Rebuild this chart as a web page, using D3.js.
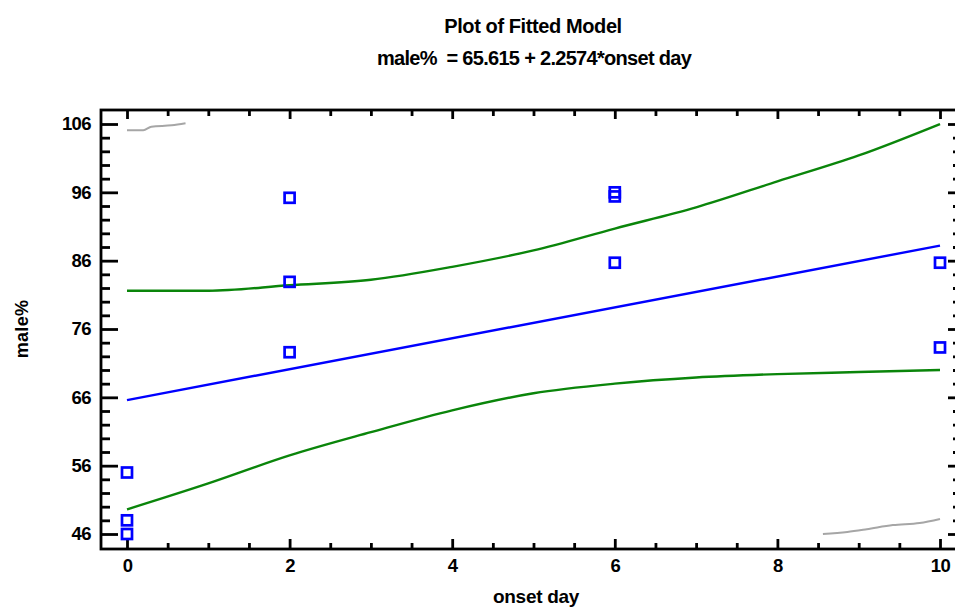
<!DOCTYPE html>
<html>
<head>
<meta charset="utf-8">
<script src="https://cdn.jsdelivr.net/npm/d3@7"></script>
<style>
  body { margin: 0; background: #fff; }
  svg { display: block; font-family: "Liberation Sans", Arial, sans-serif; font-weight: bold; }
</style>
</head>
<body>
<div id="chart"></div>
<script>
// observed points
const onsetDay = [0, 0, 0, 2, 2, 2, 6, 6, 6, 10, 10];
const malePct = [55, 48, 46, 95.2, 82.9, 72.6, 96.0, 95.4, 85.7, 85.7, 73.3];

// fitted line  male% = 65.615 + 2.2574*onset day
const fitX = [0, 10];
const fitY = [65.6, 88.2];

// green limits
const limX = [0, 1, 2, 3, 4, 5, 6, 7, 8, 9, 10];
const upperLim = [81.6, 81.6, 82.4, 83.2, 85.1, 87.5, 90.7, 93.8, 97.6, 101.4, 106.0];
const lowerLim = [49.6, 53.4, 57.5, 60.9, 64.1, 66.6, 68.0, 68.9, 69.4, 69.7, 70.0];

// gray outer limits, clipped at the axis range
const grayTopX = [0, 0.2, 0.3, 0.55, 0.72];
const grayTopY = [105.1, 105.1, 105.6, 105.8, 106.1];
const grayBotX = [8.56, 8.86, 9.1, 9.42, 9.75, 10];
const grayBotY = [46.0, 46.3, 46.7, 47.3, 47.6, 48.2];

const xMajor = [0, 2, 4, 6, 8, 10];
const xMinor = d3.range(0.5, 10.01, 0.5).filter(v => v % 2 != 0);
const yMajor = [46, 56, 66, 76, 86, 96, 106];
const yMinor = d3.range(48, 107, 2).filter(v => (v - 46) % 10 != 0);

const W = 955, H = 609;
const frameL = 101, frameR = 958, frameT = 110, frameB = 549;

const x = d3.scaleLinear().domain([0, 10]).range([127, 940]);
const y = d3.scaleLinear().domain([46, 106]).range([534, 124]);

const svg = d3.select("#chart").append("svg")
    .attr("width", W)
    .attr("height", H);

// titles
svg.append("text")
    .attr("x", 533).attr("y", 33)
    .attr("text-anchor", "middle")
    .attr("font-size", 20)
    .attr("letter-spacing", -0.4)
    .text("Plot of Fitted Model");
svg.append("text")
    .attr("x", 534).attr("y", 65)
    .attr("text-anchor", "middle")
    .attr("font-size", 20)
    .attr("letter-spacing", -0.7)
    .attr("xml:space", "preserve")
    .text("male%  = 65.615 + 2.2574*onset day");

// axis titles
svg.append("text")
    .attr("x", 536).attr("y", 603)
    .attr("text-anchor", "middle")
    .attr("font-size", 19)
    .attr("letter-spacing", -0.3)
    .text("onset day");
svg.append("text")
    .attr("transform", "translate(28,329) rotate(-90)")
    .attr("text-anchor", "middle")
    .attr("font-size", 18)
    .attr("letter-spacing", 0.3)
    .text("male%");

// axes
function styleAxis(g) {
    g.select(".domain").remove();
    g.selectAll("line").attr("stroke", "#000").attr("stroke-width", 2.8);
    g.selectAll("text").attr("font-family", "Liberation Sans, Arial, sans-serif")
        .attr("font-weight", "bold").attr("font-size", 18.5).attr("fill", "#000")
        .attr("letter-spacing", -0.6);
}

svg.append("g").attr("transform", `translate(${frameL},0)`)
    .call(d3.axisLeft(y).tickValues(yMajor).tickSizeInner(-17).tickSizeOuter(0).tickPadding(10).tickFormat(d3.format("d")))
    .call(styleAxis);
svg.append("g").attr("transform", `translate(${frameL},0)`)
    .call(d3.axisLeft(y).tickValues(yMinor).tickSizeInner(-9).tickSizeOuter(0).tickFormat(""))
    .call(styleAxis);
svg.append("g").attr("transform", `translate(${frameR},0)`)
    .call(d3.axisRight(y).tickValues(yMajor).tickSizeInner(-10).tickSizeOuter(0).tickFormat(""))
    .call(styleAxis);
svg.append("g").attr("transform", `translate(${frameR},0)`)
    .call(d3.axisRight(y).tickValues(yMinor).tickSizeInner(-5).tickSizeOuter(0).tickFormat(""))
    .call(styleAxis);

svg.append("g").attr("transform", `translate(0,${frameB})`)
    .call(d3.axisBottom(x).tickValues(xMajor).tickSizeInner(-10).tickSizeOuter(0).tickPadding(10).tickFormat(d3.format("d")))
    .call(styleAxis);
svg.append("g").attr("transform", `translate(0,${frameB})`)
    .call(d3.axisBottom(x).tickValues(xMinor).tickSizeInner(-6).tickSizeOuter(0).tickFormat(""))
    .call(styleAxis);
svg.append("g").attr("transform", `translate(0,${frameT})`)
    .call(d3.axisTop(x).tickValues(xMajor).tickSizeInner(-9).tickSizeOuter(0).tickFormat(""))
    .call(styleAxis);
svg.append("g").attr("transform", `translate(0,${frameT})`)
    .call(d3.axisTop(x).tickValues(xMinor).tickSizeInner(-6).tickSizeOuter(0).tickFormat(""))
    .call(styleAxis);

// frame
svg.append("rect")
    .attr("x", frameL).attr("y", frameT)
    .attr("width", frameR - frameL).attr("height", frameB - frameT)
    .attr("fill", "none")
    .attr("stroke", "#000")
    .attr("stroke-width", 2.8);

const line = d3.line().x(d => x(d[0])).y(d => y(d[1])).curve(d3.curveMonotoneX);

function drawLine(xs, ys, color, w) {
    svg.append("path")
        .datum(d3.zip(xs, ys))
        .attr("fill", "none")
        .attr("stroke", color)
        .attr("stroke-width", w)
        .attr("d", line);
}

drawLine(grayTopX, grayTopY, "#a6a6a6", 2);
drawLine(grayBotX, grayBotY, "#a6a6a6", 2);
drawLine(limX, upperLim, "#0a850a", 2.4);
drawLine(limX, lowerLim, "#0a850a", 2.4);
drawLine(fitX, fitY, "#0000ff", 2.4);

// points
svg.append("g").selectAll("rect")
    .data(d3.zip(onsetDay, malePct))
    .join("rect")
    .attr("x", d => x(d[0]) - 5)
    .attr("y", d => y(d[1]) - 5)
    .attr("width", 10)
    .attr("height", 10)
    .attr("fill", "none")
    .attr("stroke", "#0000ff")
    .attr("stroke-width", 2.7);
</script>
</body>
</html>
